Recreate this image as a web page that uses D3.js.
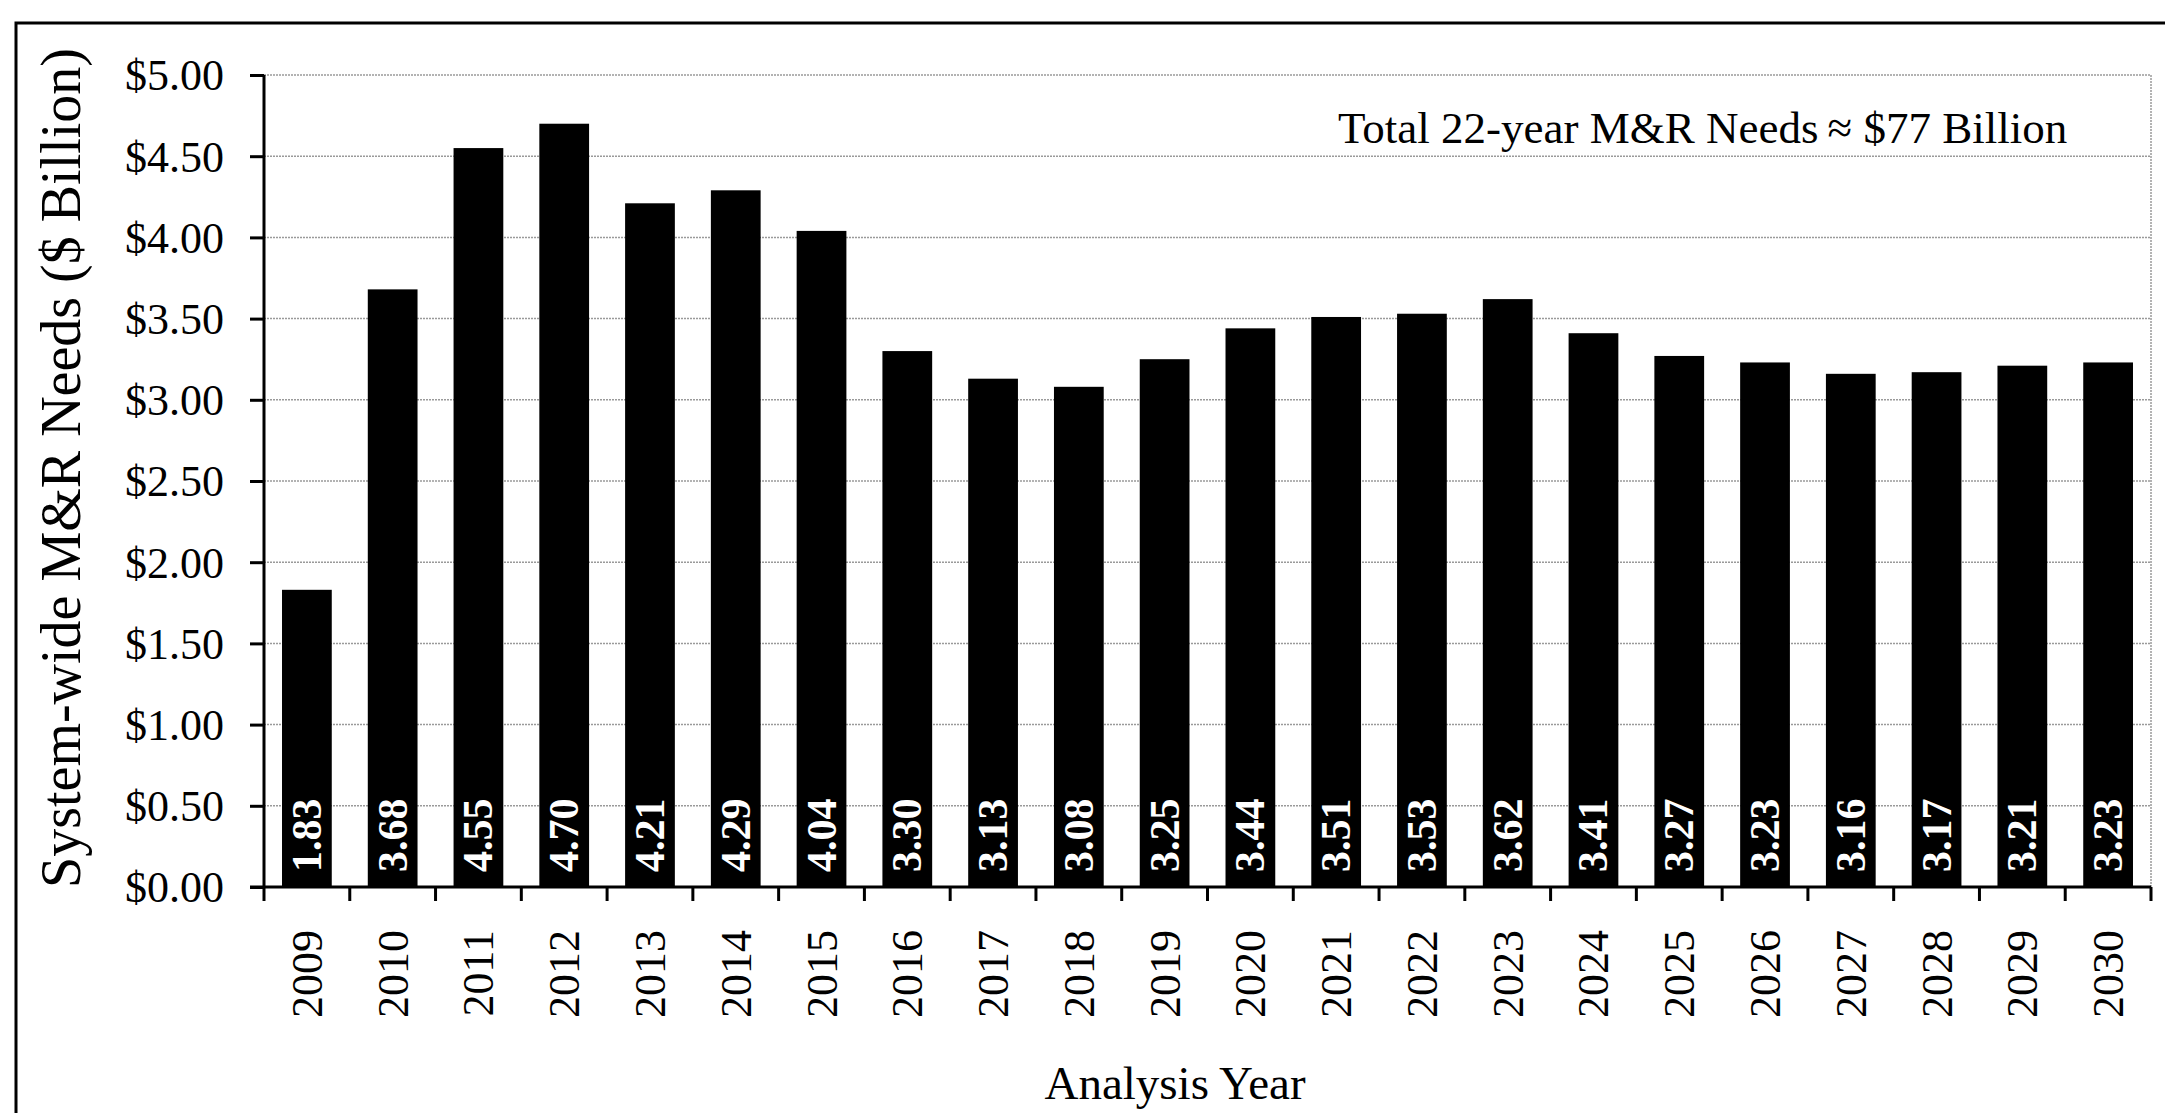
<!DOCTYPE html>
<html><head><meta charset="utf-8">
<script src="https://cdn.jsdelivr.net/npm/d3@7"></script>
<style>html,body{margin:0;padding:0;background:#fff;}svg{display:block;}</style>
</head><body>
<script>
const years = ["2009","2010","2011","2012","2013","2014","2015","2016","2017","2018","2019","2020","2021","2022","2023","2024","2025","2026","2027","2028","2029","2030"];
const needs = [1.83,3.68,4.55,4.70,4.21,4.29,4.04,3.30,3.13,3.08,3.25,3.44,3.51,3.53,3.62,3.41,3.27,3.23,3.16,3.17,3.21,3.23];
const yTicks = [0,0.5,1,1.5,2,2.5,3,3.5,4,4.5,5];
const yTitle = "System-wide M&R Needs ($ Billion)";
const xTitle = "Analysis Year";
const note = "Total 22-year M&R Needs\u2009\u2248 $77 Billion";

const W = 2165, H = 1113;
const font = "'Liberation Serif','Times New Roman',serif";
const svg = d3.select("body").append("svg").attr("width", W).attr("height", H);

// outer frame
svg.append("rect").attr("x",16).attr("y",23).attr("width",W+20).attr("height",H+20)
  .attr("fill","none").attr("stroke","#000").attr("stroke-width",3);

const L = 264, R = 2151, T = 75, B = 887;
const x = d3.scaleBand().domain(years).range([L,R]).paddingInner(0.42).paddingOuter(0.21);
const y = d3.scaleLinear().domain([0,5]).range([B,T]);

// gridlines
svg.append("g").selectAll("line").data(yTicks.filter(d=>d>0)).join("line")
  .attr("x1",L).attr("x2",R).attr("y1",d=>y(d)).attr("y2",d=>y(d))
  .attr("stroke","#9a9a9a").attr("stroke-width",1.5).attr("stroke-dasharray","2,1");
// right border of plot
svg.append("line").attr("x1",R).attr("x2",R).attr("y1",T).attr("y2",B)
  .attr("stroke","#9a9a9a").attr("stroke-width",1.5).attr("stroke-dasharray","2,1");

// bars
svg.append("g").selectAll("rect").data(needs).join("rect")
  .attr("x",(d,i)=>x(years[i])).attr("width",x.bandwidth())
  .attr("y",d=>y(d)).attr("height",d=>B-y(d)).attr("fill","#000");

// bar labels
svg.append("g").selectAll("text").data(needs).join("text")
  .attr("transform",(d,i)=>`translate(${x(years[i])+x.bandwidth()/2+14},${B-15}) rotate(-90)`)
  .attr("fill","#fff").attr("font-family",font).attr("font-weight","bold")
  .attr("font-size",42).text(d=>d.toFixed(2));

// y axis
const yAxis = d3.axisLeft(y).tickValues(yTicks).tickSize(14).tickPadding(26)
  .tickFormat(d=>"$"+d3.format(".2f")(d));
const gy = svg.append("g").attr("transform",`translate(${L},0)`).call(yAxis);
gy.select(".domain").attr("stroke","#000").attr("stroke-width",3).attr("d",`M0,${T}V${B}`);
gy.selectAll(".tick line").attr("stroke","#000").attr("stroke-width",3);
gy.selectAll(".tick text").attr("font-family",font).attr("font-size",44).attr("fill","#000").attr("dy","0.34em");

// x axis
const gx = svg.append("g").attr("transform",`translate(0,${B})`);
gx.append("line").attr("x1",L-14).attr("x2",R).attr("y1",0).attr("y2",0).attr("stroke","#000").attr("stroke-width",3);
const bounds = years.map(yv=>x(yv)-x.step()*x.paddingInner()/2).concat([R]);
bounds[0] = L;
gx.selectAll("line.tk").data(bounds).join("line").attr("class","tk")
  .attr("x1",d=>d).attr("x2",d=>d).attr("y1",0).attr("y2",14).attr("stroke","#000").attr("stroke-width",3);
gx.selectAll("text").data(years).join("text")
  .attr("transform",d=>`translate(${x(d)+x.bandwidth()/2+15},${43}) rotate(-90)`)
  .attr("text-anchor","end").attr("font-family",font).attr("font-size",44).attr("fill","#000").text(d=>d);

// axis titles
svg.append("text").attr("transform",`translate(${80},${(T+B)/2-13}) rotate(-90)`)
  .attr("text-anchor","middle").attr("font-family",font).attr("font-size",56).attr("fill","#000").text(yTitle);
svg.append("text").attr("x",1175).attr("y",1099).attr("text-anchor","middle")
  .attr("font-family",font).attr("font-size",47).attr("fill","#000").text(xTitle);

// annotation
svg.append("text").attr("x",1338).attr("y",143).attr("font-family",font).attr("font-size",45).attr("fill","#000").text(note);
</script>
</body></html>
